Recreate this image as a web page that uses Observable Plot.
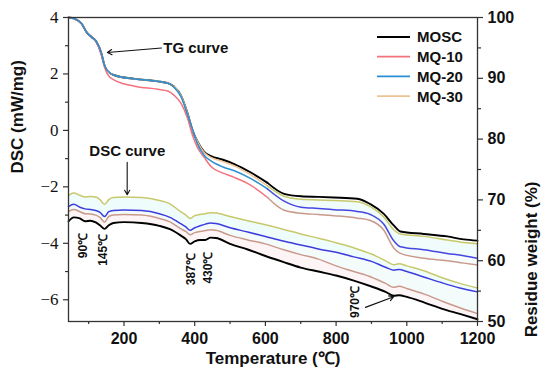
<!DOCTYPE html>
<html><head><meta charset="utf-8">
<script src="https://cdn.jsdelivr.net/npm/d3@7"></script>
<script src="https://cdn.jsdelivr.net/npm/@observablehq/plot@0.6"></script>
<style>
body{margin:0;background:#fff;}
#wrap{position:relative;width:550px;height:380px;font-family:"Liberation Sans",Arial,sans-serif;}
#legend{position:absolute;left:0;top:0;pointer-events:none;}
</style></head><body><div id="wrap"></div>
<script>
// ---- series ----
const series = ["MOSC", "MQ-10", "MQ-20", "MQ-30"];
const tgColors = ["#000000", "#f4717e", "#2b8fd2", "#eec394"];
const tgLateColors = ["#000000", "#c99a8c", "#4646e0", "#c8c86c"];
const dscColors = ["#000000", "#c99a8c", "#3d3ddd", "#c8c86c"];

// ---- TG (residue weight, %) ----
const tgT = [43, 60, 80, 94, 108, 122, 136, 145, 153, 173, 230, 296, 324, 342, 361, 380, 394, 408, 427, 446, 480, 512, 559, 606, 653, 701, 750, 794, 860, 897, 935, 963, 982, 1048, 1114, 1161, 1200];
const tgMOSC = [100, 99.8, 99.0, 97.6, 96.8, 96.0, 94.1, 92.1, 91.2, 90.5, 89.9, 89.5, 89.2, 88.6, 87.2, 84.2, 81.4, 79.6, 77.9, 77.2, 76.6, 75.9, 74.5, 72.8, 71.0, 70.6, 70.5, 70.4, 70.2, 69.3, 67.7, 65.8, 64.8, 64.4, 64.0, 63.5, 63.3];
const tgMQ10 = [100, 99.8, 99.0, 97.6, 96.8, 95.9, 93.8, 91.8, 90.7, 89.7, 88.7, 88.2, 87.9, 87.2, 85.9, 83.4, 80.6, 78.6, 77.0, 75.5, 74.4, 73.7, 72.4, 70.4, 68.3, 67.8, 67.6, 67.4, 67.0, 66.6, 65.0, 62.1, 61.2, 60.4, 60.0, 59.6, 59.3];
const tgMQ20 = [100, 99.8, 99.0, 97.6, 96.8, 96.0, 94.1, 92.1, 91.3, 90.5, 89.9, 89.5, 89.2, 88.5, 87.0, 84.0, 81.6, 79.2, 77.3, 76.4, 75.4, 74.8, 73.5, 71.8, 69.8, 68.8, 68.6, 68.4, 68.1, 67.6, 66.0, 63.3, 62.3, 61.8, 61.2, 60.8, 60.4];
const tgMQ30 = [100, 99.8, 99.0, 97.6, 96.8, 96.0, 94.1, 92.1, 91.2, 90.5, 89.9, 89.5, 89.2, 88.6, 87.2, 84.2, 81.4, 79.6, 77.8, 77.0, 76.3, 75.6, 74.1, 72.3, 70.6, 70.1, 70.0, 69.9, 69.7, 68.9, 67.2, 65.1, 64.4, 64.0, 63.4, 63.0, 62.8];

// ---- DSC (mW/mg) ----
const dscT = [43, 58, 75, 90, 105, 120, 132, 145, 157, 170, 200, 250, 300, 330, 360, 375, 387, 400, 415, 430, 445, 460, 500, 550, 600, 650, 700, 750, 800, 850, 900, 940, 963, 978, 1000, 1050, 1100, 1150, 1200];
const dscMOSC = [-3.22, -3.08, -3.12, -3.22, -3.20, -3.26, -3.36, -3.49, -3.36, -3.28, -3.25, -3.28, -3.38, -3.50, -3.72, -3.85, -4.02, -3.93, -3.88, -3.88, -3.80, -3.81, -4.02, -4.22, -4.45, -4.66, -4.86, -5.00, -5.14, -5.32, -5.53, -5.72, -5.86, -5.84, -5.90, -6.10, -6.32, -6.50, -6.69];
const dscMQ10 = [-2.88, -2.80, -2.88, -2.95, -2.96, -3.00, -3.08, -3.25, -3.05, -3.00, -2.98, -3.00, -3.12, -3.24, -3.48, -3.58, -3.70, -3.62, -3.58, -3.55, -3.52, -3.54, -3.72, -3.88, -4.02, -4.22, -4.40, -4.56, -4.80, -5.00, -5.20, -5.42, -5.56, -5.52, -5.60, -5.80, -6.05, -6.28, -6.49];
const dscMQ20 = [-2.70, -2.62, -2.72, -2.78, -2.80, -2.84, -2.90, -3.05, -2.88, -2.84, -2.82, -2.84, -2.95, -3.08, -3.30, -3.42, -3.54, -3.45, -3.38, -3.32, -3.28, -3.30, -3.45, -3.60, -3.76, -3.92, -4.06, -4.20, -4.32, -4.48, -4.64, -4.85, -4.95, -4.93, -5.00, -5.20, -5.40, -5.58, -5.72];
const dscMQ30 = [-2.30, -2.22, -2.30, -2.36, -2.34, -2.36, -2.45, -2.62, -2.45, -2.38, -2.36, -2.38, -2.48, -2.60, -2.88, -3.00, -3.12, -3.02, -2.98, -2.95, -2.92, -2.93, -3.05, -3.20, -3.34, -3.50, -3.67, -3.82, -3.98, -4.16, -4.38, -4.62, -4.76, -4.72, -4.80, -4.98, -5.22, -5.42, -5.58];

// ---- axes ----
const xDomain = [43, 1200];
const dscDomain = [-6.77, 4];
const wDomain = [50, 100];
const xMajor = [200, 400, 600, 800, 1000, 1200];
const xMinor = [100, 300, 500, 700, 900, 1100];
const dscMajor = [-6, -4, -2, 0, 2, 4];
const dscMinor = [-5, -3, -1, 1, 3];
const wMajor = [50, 60, 70, 80, 90, 100];
const wMinor = [55, 65, 75, 85, 95];

// ---- annotations ----
const peakLabels = ["90℃", "145℃", "387℃", "430℃", "970℃"];
const peakT = [85, 140, 390, 437, 855];
const peakV = [-4.08, -4.23, -4.92, -4.86, -6.08];
const curveLabels = ["TG curve", "DSC curve"];
const curveT = [311, 102];
const curveV = [2.93, -0.75];
const arrowT1 = [306, 209, 883];
const arrowV1 = [2.92, -1.13, -6.27];
const arrowT2 = [153, 209, 963];
const arrowV2 = [2.76, -2.28, -5.89];

// weight -> DSC-axis units (shared vertical scale)
const toV = w => dscDomain[0] + (w - wDomain[0]) / (wDomain[1] - wDomain[0]) * (dscDomain[1] - dscDomain[0]);
const fromV = v => wDomain[0] + (v - dscDomain[0]) / (dscDomain[1] - dscDomain[0]) * (wDomain[1] - wDomain[0]);

const tgAll = [tgMOSC, tgMQ10, tgMQ20, tgMQ30];
const dscAll = [dscMOSC, dscMQ10, dscMQ20, dscMQ30];
const tgRows = tgT.map((T, i) => ({T, s: tgAll.map(a => toV(a[i]))}));
const dscRows = dscT.map((T, i) => ({T, s: dscAll.map(a => a[i])}));
const split = 606;
const tgEarly = tgRows.filter(d => d.T <= split);
const tgLate = tgRows.filter(d => d.T >= split);

const drawOrder = [0, 3, 1, 2];
const marks = [];
// faint tints between curves
marks.push(Plot.areaY(dscRows, {x: "T", y1: d => d.s[3], y2: d => d.s[2], fill: "#effcfc"}));
marks.push(Plot.areaY(dscRows, {x: "T", y1: d => d.s[2], y2: d => d.s[1], fill: "#f3fbfb"}));
marks.push(Plot.areaY(dscRows, {x: "T", y1: d => d.s[1], y2: d => d.s[0], fill: "#fdf5f5"}));
marks.push(Plot.areaY(tgLate, {x: "T", y1: d => d.s[3], y2: d => d.s[2], fill: "#f0fbfb"}));
marks.push(Plot.areaY(tgLate, {x: "T", y1: d => d.s[2], y2: d => d.s[1], fill: "#f6fbfb"}));
for (const k of drawOrder) {
  const w = k === 0 ? 1.9 : 1.5;
  marks.push(Plot.line(tgEarly, {x: "T", y: d => d.s[k], stroke: tgColors[k], strokeWidth: w, curve: "monotone-x"}));
  marks.push(Plot.line(tgLate, {x: "T", y: d => d.s[k], stroke: tgLateColors[k], strokeWidth: w, curve: "monotone-x"}));
  marks.push(Plot.line(dscRows, {x: "T", y: d => d.s[k], stroke: dscColors[k], strokeWidth: w, curve: "monotone-x"}));
}
const axisColor = "#333";
marks.push(Plot.frame({stroke: axisColor, strokeWidth: 1.3}));
marks.push(Plot.axisX({ticks: xMajor, tickSize: 5, tickPadding: 6, fontSize: 16, fontWeight: "bold", tickFormat: d => String(d), label: null, stroke: axisColor, strokeWidth: 1.2}));
marks.push(Plot.axisX({ticks: xMinor, tickSize: 3, tickFormat: () => "", label: null, stroke: axisColor, strokeWidth: 1.2}));
marks.push(Plot.axisY({anchor: "left", ticks: dscMajor, tickSize: 5, tickPadding: 5, fontSize: 17, fontFamily: "Liberation Serif", tickFormat: d => d < 0 ? "\u2212" + (-d) : String(d), label: null, stroke: axisColor, strokeWidth: 1.2}));
marks.push(Plot.axisY({anchor: "left", ticks: dscMinor, tickSize: 3, tickFormat: () => "", label: null, stroke: axisColor, strokeWidth: 1.2}));
marks.push(Plot.axisY({anchor: "right", ticks: wMajor.map(toV), tickSize: 5, tickPadding: 5, fontSize: 16, fontWeight: "bold", tickFormat: v => String(Math.round(fromV(v))), label: null, stroke: axisColor, strokeWidth: 1.2}));
marks.push(Plot.axisY({anchor: "right", ticks: wMinor.map(toV), tickSize: 3, tickFormat: () => "", label: null, stroke: axisColor, strokeWidth: 1.2}));
// axis titles
marks.push(Plot.text(["DSC (mW/mg)"], {text: d => d, frameAnchor: "left", dx: -51, dy: 4, rotate: -90, fontSize: 17, fontWeight: "bold", fill: "#111"}));
marks.push(Plot.text(["Residue weight (%)"], {text: d => d, frameAnchor: "right", dx: 54, dy: 12, rotate: -90, fontSize: 17, fontWeight: "bold", fill: "#111"}));
marks.push(Plot.text(["Temperature (℃)"], {text: d => d, frameAnchor: "bottom", dy: 42, fontSize: 17, fontWeight: "bold", fill: "#111"}));
// annotations
marks.push(Plot.text(peakLabels, {x: (d, i) => peakT[i], y: (d, i) => peakV[i], text: d => d, rotate: -90, fontSize: 12, fontWeight: "bold", fill: "#111"}));
marks.push(Plot.text(curveLabels, {x: (d, i) => curveT[i], y: (d, i) => curveV[i], text: d => d, textAnchor: "start", fontSize: 15, fontWeight: "bold", fill: "#111"}));
marks.push(Plot.arrow(arrowT1, {x1: d => d, y1: (d, i) => arrowV1[i], x2: (d, i) => arrowT2[i], y2: (d, i) => arrowV2[i], stroke: "#111", strokeWidth: 1.1, headLength: 7}));

const chart = Plot.plot({
  width: 550, height: 380,
  marginLeft: 68, marginRight: 73, marginTop: 17, marginBottom: 59,
  x: {domain: xDomain},
  y: {domain: dscDomain},
  style: {fontFamily: "'Liberation Sans', Arial, sans-serif", background: "white", color: "#111", overflow: "visible"},
  marks
});
const wrap = document.getElementById("wrap");
wrap.appendChild(chart);

// legend overlay
const lg = d3.select(wrap).append("svg").attr("id", "legend").attr("width", 550).attr("height", 380);
series.forEach((name, i) => {
  const y = 37 + i * 19.7;
  lg.append("line").attr("x1", 377).attr("x2", 410).attr("y1", y).attr("y2", y)
    .attr("stroke", tgColors[i]).attr("stroke-width", i === 0 ? 2 : 1.8);
  lg.append("text").attr("x", 417).attr("y", y).attr("dy", "0.36em")
    .attr("font-size", 15).attr("font-weight", "bold").attr("fill", "#111")
    .attr("font-family", "'Liberation Sans', Arial, sans-serif").text(name);
});
</script></body></html>
